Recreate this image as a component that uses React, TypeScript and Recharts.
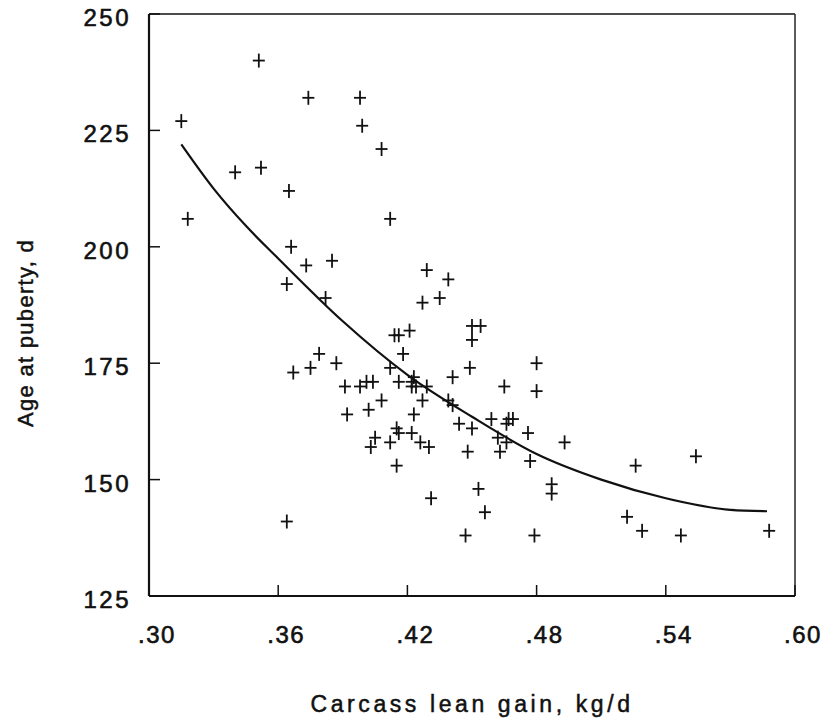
import React from 'react';
import {
  ComposedChart,
  Scatter,
  Line,
  XAxis,
  YAxis,
  ReferenceLine
} from 'recharts';

// lean gain (kg/d) and age at puberty (d) for each gilt
const gainX = [
  0.315, 0.318, 0.340, 0.352, 0.351, 0.374, 0.365, 0.366, 0.373, 0.385,
  0.364, 0.382, 0.398, 0.399, 0.408, 0.412, 0.429, 0.439, 0.435, 0.379,
  0.367, 0.375, 0.387, 0.391, 0.392, 0.364, 0.427, 0.450, 0.454, 0.450,
  0.414, 0.416, 0.421, 0.418, 0.412, 0.449, 0.480, 0.441, 0.398, 0.401,
  0.404, 0.416, 0.422, 0.423, 0.424, 0.429, 0.422, 0.465, 0.480, 0.408,
  0.427, 0.439, 0.441, 0.402, 0.423, 0.444, 0.450, 0.459, 0.466, 0.469,
  0.467, 0.415, 0.416, 0.422, 0.405, 0.403, 0.412, 0.426, 0.430, 0.462,
  0.466, 0.476, 0.448, 0.463, 0.477, 0.493, 0.415, 0.453, 0.487, 0.487,
  0.456, 0.431, 0.447, 0.479, 0.526, 0.554, 0.522, 0.529, 0.547, 0.588
];
const ageY = [
  227, 206, 216, 217, 240, 232, 212, 200, 196, 197,
  192, 189, 232, 226, 221, 206, 195, 193, 189, 177,
  173, 174, 175, 170, 164, 141, 188, 183, 183, 180,
  181, 181, 182, 177, 174, 174, 175, 172, 170, 171,
  171, 171, 171, 172, 170, 170, 170, 170, 169, 167,
  167, 167, 166, 165, 164, 162, 161, 163, 162, 163,
  163, 161, 160, 160, 159, 157, 158, 158, 157, 159,
  158, 160, 156, 156, 154, 158, 153, 148, 149, 147,
  143, 146, 138, 138, 153, 155, 142, 139, 138, 139
];

// fitted curve
const curveX = [0.315, 0.33, 0.345, 0.36, 0.39, 0.42, 0.45, 0.48, 0.51, 0.54, 0.57, 0.587];
const curveY = [222, 212.5, 204.5, 197.5, 184, 172.5, 163.5, 155.5, 150, 146, 143.5, 143.2];

const xTicks = [0.3, 0.36, 0.42, 0.48, 0.54, 0.6];
const yTicks = [125, 150, 175, 200, 225, 250];

const points = gainX.map((x, i) => ({ x, y: ageY[i] }));
const curve = curveX.map((x, i) => ({ x, y: curveY[i] }));

const FONT = '"Liberation Sans", Arial, Helvetica, sans-serif';
const INK = '#111';

const Plus = (props: any) => {
  const { cx, cy } = props;
  if (cx == null || cy == null) return null;
  return (
    <g stroke={INK} strokeWidth={1.8}>
      <line x1={cx - 6} y1={cy} x2={cx + 6} y2={cy} />
      <line x1={cx} y1={cy - 7} x2={cx} y2={cy + 7} />
    </g>
  );
};

const XTick = (props: any) => {
  const { x, y, payload } = props;
  const label = payload.value.toFixed(2).replace(/^0/, '');
  return (
    <g>
      <line x1={x} y1={y} x2={x} y2={y - 11} stroke={INK} strokeWidth={1.5} />
      <text x={x + 8} y={y + 47} textAnchor="middle" fontSize={24} letterSpacing={1.5}
        fontFamily={FONT} fill={INK} stroke={INK} strokeWidth={0.6}>{label}</text>
    </g>
  );
};

const YTick = (props: any) => {
  const { x, y, payload } = props;
  return (
    <g>
      <line x1={x} y1={y} x2={x + 11} y2={y} stroke={INK} strokeWidth={1.5} />
      <text x={x - 18} y={y + 12} textAnchor="end" fontSize={24} letterSpacing={2.5}
        fontFamily={FONT} fill={INK} stroke={INK} strokeWidth={0.6}>{payload.value}</text>
    </g>
  );
};

export default function App() {
  return (
    <div style={{ position: 'absolute', left: 0, top: 0, background: '#fff' }}>
      <ComposedChart
        width={830}
        height={727}
        margin={{ top: 14, right: 35, left: 89, bottom: 101 }}
      >
        <XAxis
          dataKey="x"
          type="number"
          domain={[0.3, 0.6]}
          ticks={xTicks}
          interval={0}
          allowDataOverflow
          tickSize={0}
          tickMargin={0}
          tickLine={false}
          tick={<XTick />}
          height={30}
          axisLine={{ stroke: INK, strokeWidth: 2 }}
          label={{
            content: (p: any) => {
              const vb = p.viewBox;
              return (
                <text x={vb.x + vb.width / 2} y={712} textAnchor="middle" fontSize={23}
                  letterSpacing={3.6} fontFamily={FONT} fill={INK} stroke={INK} strokeWidth={0.5}>
                  Carcass lean gain, kg/d
                </text>
              );
            }
          }}
        />
        <YAxis
          dataKey="y"
          type="number"
          domain={[125, 250]}
          ticks={yTicks}
          interval={0}
          allowDataOverflow
          tickSize={0}
          tickMargin={0}
          tickLine={false}
          tick={<YTick />}
          width={60}
          axisLine={{ stroke: INK, strokeWidth: 2.2 }}
          label={{
            content: () => {
              const cy = 333;
              return (
                <text x={25} y={cy} textAnchor="middle" dominantBaseline="central"
                  transform={`rotate(-90, 25, ${cy})`} fontSize={22} letterSpacing={1.3}
                  fontFamily={FONT} fill={INK} stroke={INK} strokeWidth={0.5}>
                  Age at puberty, d
                </text>
              );
            }
          }}
        />
        <ReferenceLine y={250} stroke={INK} strokeWidth={1.6} />
        <ReferenceLine x={0.6} stroke="#333" strokeWidth={1.6} />
        <Line
          data={curve}
          dataKey="y"
          type="monotone"
          stroke={INK}
          strokeWidth={2.2}
          dot={false}
          activeDot={false}
          isAnimationActive={false}
        />
        <Scatter
          data={points}
          dataKey="y"
          shape={<Plus />}
          isAnimationActive={false}
        />
      </ComposedChart>
    </div>
  );
}
